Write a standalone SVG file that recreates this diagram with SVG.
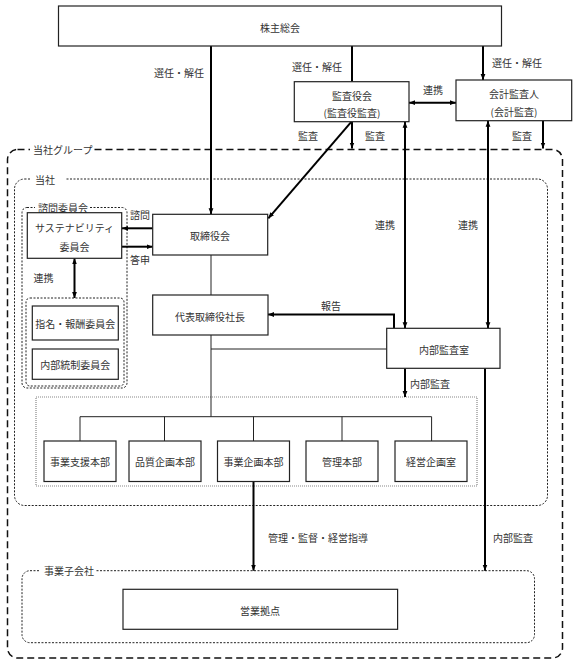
<svg xmlns="http://www.w3.org/2000/svg" width="577" height="666" viewBox="0 0 577 666">
<style>
text{font-family:"Noto Sans CJK JP","Noto Sans",sans-serif;font-size:10px;fill:#333;dominant-baseline:central;text-anchor:middle}
.box{fill:#fff;stroke:#222;stroke-width:1.2}
.thick{stroke:#000;stroke-width:2;fill:none}
.thin{stroke:#222;stroke-width:1;fill:none}
.grpA{fill:none;stroke:#111;stroke-width:1.5;stroke-dasharray:7 4}
.grpB{fill:none;stroke:#222;stroke-width:1;stroke-dasharray:2 1.5}
.grpC{fill:none;stroke:#888;stroke-width:1.2;stroke-dasharray:1 1}
.lbg{fill:#fff}
.ls{text-anchor:start}
</style>
<defs>
<marker id="ah" viewBox="0 0 10 10" refX="10" refY="5" markerWidth="6" markerHeight="6" markerUnits="userSpaceOnUse" orient="auto-start-reverse"><path d="M0,1 L10,5 L0,9 z" fill="#000"/></marker>
</defs>
<rect width="577" height="666" fill="#fff"/>

<g id="groups">
<g id="group-toshagroup">
<rect class="grpA" x="7.5" y="149.5" width="555" height="508.5" rx="10"/>
<rect class="lbg" x="30" y="143" width="64" height="13"/>
<text class="ls" x="33" y="149.5">当社グループ</text>
</g>
<g id="group-tosha">
<rect class="grpB" x="14.5" y="179" width="533" height="326.5" rx="10"/>
<rect class="lbg" x="30" y="173" width="36" height="13"/>
<text class="ls" x="35" y="179">当社</text>
</g>
<g id="group-shimon">
<rect class="grpB" x="22" y="207.5" width="105" height="180.5" rx="5"/>
<rect class="lbg" x="35" y="201" width="55" height="13"/>
<text class="ls" x="38" y="207.5">諮問委員会</text>
<rect class="grpB" x="26" y="298" width="98" height="88" rx="4"/>
</g>
<g id="group-honbu">
<rect class="grpC" x="36" y="397" width="441" height="89"/>
</g>
<g id="group-kogaisha">
<rect class="grpB" x="22" y="570.7" width="512.5" height="72" rx="8"/>
<rect class="lbg" x="40" y="564" width="55" height="13"/>
<text class="ls" x="44" y="570.7">事業子会社</text>
</g>
</g>

<g id="connectors">
<line class="thick" x1="211" y1="46" x2="211" y2="214.3" marker-end="url(#ah)"/>
<line class="thick" x1="352" y1="46" x2="352" y2="81.7"/>
<line class="thick" x1="483" y1="46" x2="483" y2="80" marker-end="url(#ah)"/>
<line class="thick" x1="409" y1="102.7" x2="456" y2="102.7" marker-start="url(#ah)" marker-end="url(#ah)"/>
<line class="thick" x1="351.5" y1="121.7" x2="268.3" y2="218.3" marker-end="url(#ah)"/>
<line class="thick" x1="352" y1="121.7" x2="352" y2="148.5" marker-end="url(#ah)"/>
<line class="thick" x1="543" y1="120.7" x2="543" y2="148.5" marker-end="url(#ah)"/>
<line class="thick" x1="405" y1="121.7" x2="405" y2="328.3" marker-start="url(#ah)" marker-end="url(#ah)"/>
<line class="thick" x1="488" y1="120.7" x2="488" y2="328.3" marker-start="url(#ah)" marker-end="url(#ah)"/>
<line class="thick" x1="152.7" y1="228.3" x2="122" y2="228.3" marker-end="url(#ah)"/>
<line class="thick" x1="122" y1="246.7" x2="152.7" y2="246.7" marker-end="url(#ah)"/>
<line class="thick" x1="74.5" y1="258.3" x2="74.5" y2="298" marker-start="url(#ah)" marker-end="url(#ah)"/>
<line class="thin" x1="211" y1="255" x2="211" y2="295"/>
<polyline class="thick" points="394,328.3 394,314.5 268,314.5" marker-end="url(#ah)"/>
<line class="thin" x1="211" y1="335" x2="211" y2="416.7"/>
<line class="thin" x1="211" y1="349" x2="386.7" y2="349"/>
<line class="thick" x1="405" y1="368.3" x2="405" y2="397" marker-end="url(#ah)"/>
<line class="thick" x1="485" y1="368.3" x2="485" y2="570.7" marker-end="url(#ah)"/>
<polyline class="thin" points="80,441 80,416.7 431.6,416.7 431.6,441"/>
<line class="thin" x1="164.5" y1="416.7" x2="164.5" y2="441"/>
<line class="thin" x1="253.5" y1="416.7" x2="253.5" y2="441"/>
<line class="thin" x1="342" y1="416.7" x2="342" y2="441"/>
<line class="thick" x1="253.5" y1="481" x2="253.5" y2="570.7" marker-end="url(#ah)"/>
</g>

<g id="labels">
<text x="179" y="72">選任・解任</text>
<text x="317" y="66">選任・解任</text>
<text x="517" y="62">選任・解任</text>
<text x="433" y="89">連携</text>
<text x="308" y="135">監査</text>
<text x="375" y="135">監査</text>
<text x="522" y="135">監査</text>
<text x="140" y="214">諮問</text>
<text x="140" y="259.5">答申</text>
<text x="43.5" y="277">連携</text>
<text x="385" y="224.5">連携</text>
<text x="468" y="224.5">連携</text>
<text x="331" y="305">報告</text>
<text x="430" y="383">内部監査</text>
<text class="ls" x="268" y="537">管理・監督・経営指導</text>
<text x="513" y="537">内部監査</text>
</g>

<g id="node-kabunushi"><rect class="box" x="58.5" y="6" width="443" height="40"/><text x="280" y="27">株主総会</text></g>
<g id="node-kansayakukai"><rect class="box" x="294.3" y="81.7" width="114.7" height="40"/><text x="352" y="95">監査役会</text><text x="352" y="112.6">(監査役監査)</text></g>
<g id="node-kaikei"><rect class="box" x="456" y="80" width="115.7" height="40.7"/><text x="514" y="93">会計監査人</text><text x="514" y="111">(会計監査)</text></g>
<g id="node-torishimariyakukai"><rect class="box" x="152.7" y="214.3" width="115" height="40.7"/><text x="210" y="235">取締役会</text></g>
<g id="node-sustainability"><rect class="box" x="27.3" y="212.7" width="94.4" height="45.6"/><text x="74.5" y="227.3">サステナビリティ</text><text x="74.5" y="246">委員会</text></g>
<g id="node-shimei"><rect class="box" x="32.3" y="306" width="86" height="34"/><text x="75.3" y="323">指名・報酬委員会</text></g>
<g id="node-naibutousei"><rect class="box" x="32.3" y="349" width="86" height="30.3"/><text x="75.3" y="364">内部統制委員会</text></g>
<g id="node-shachou"><rect class="box" x="152.7" y="295" width="115.3" height="40"/><text x="210" y="316">代表取締役社長</text></g>
<g id="node-naibukansa"><rect class="box" x="386.7" y="328.3" width="113.3" height="40"/><text x="444" y="349">内部監査室</text></g>
<g id="node-jigyoushien"><rect class="box" x="44" y="441" width="72" height="40.5"/><text x="80" y="461.7">事業支援本部</text></g>
<g id="node-hinshitsu"><rect class="box" x="129" y="441" width="72" height="40.5"/><text x="165" y="461.7">品質企画本部</text></g>
<g id="node-jigyoukikaku"><rect class="box" x="217.5" y="441" width="72" height="40.5"/><text x="253.5" y="461.7">事業企画本部</text></g>
<g id="node-kanri"><rect class="box" x="306" y="441" width="72" height="40.5"/><text x="342" y="461.7">管理本部</text></g>
<g id="node-keiei"><rect class="box" x="395" y="441" width="72" height="40.5"/><text x="431" y="461.7">経営企画室</text></g>
<g id="node-eigyou"><rect class="box" x="123" y="589.3" width="274.6" height="40"/><text x="260" y="610">営業拠点</text></g>
</svg>
